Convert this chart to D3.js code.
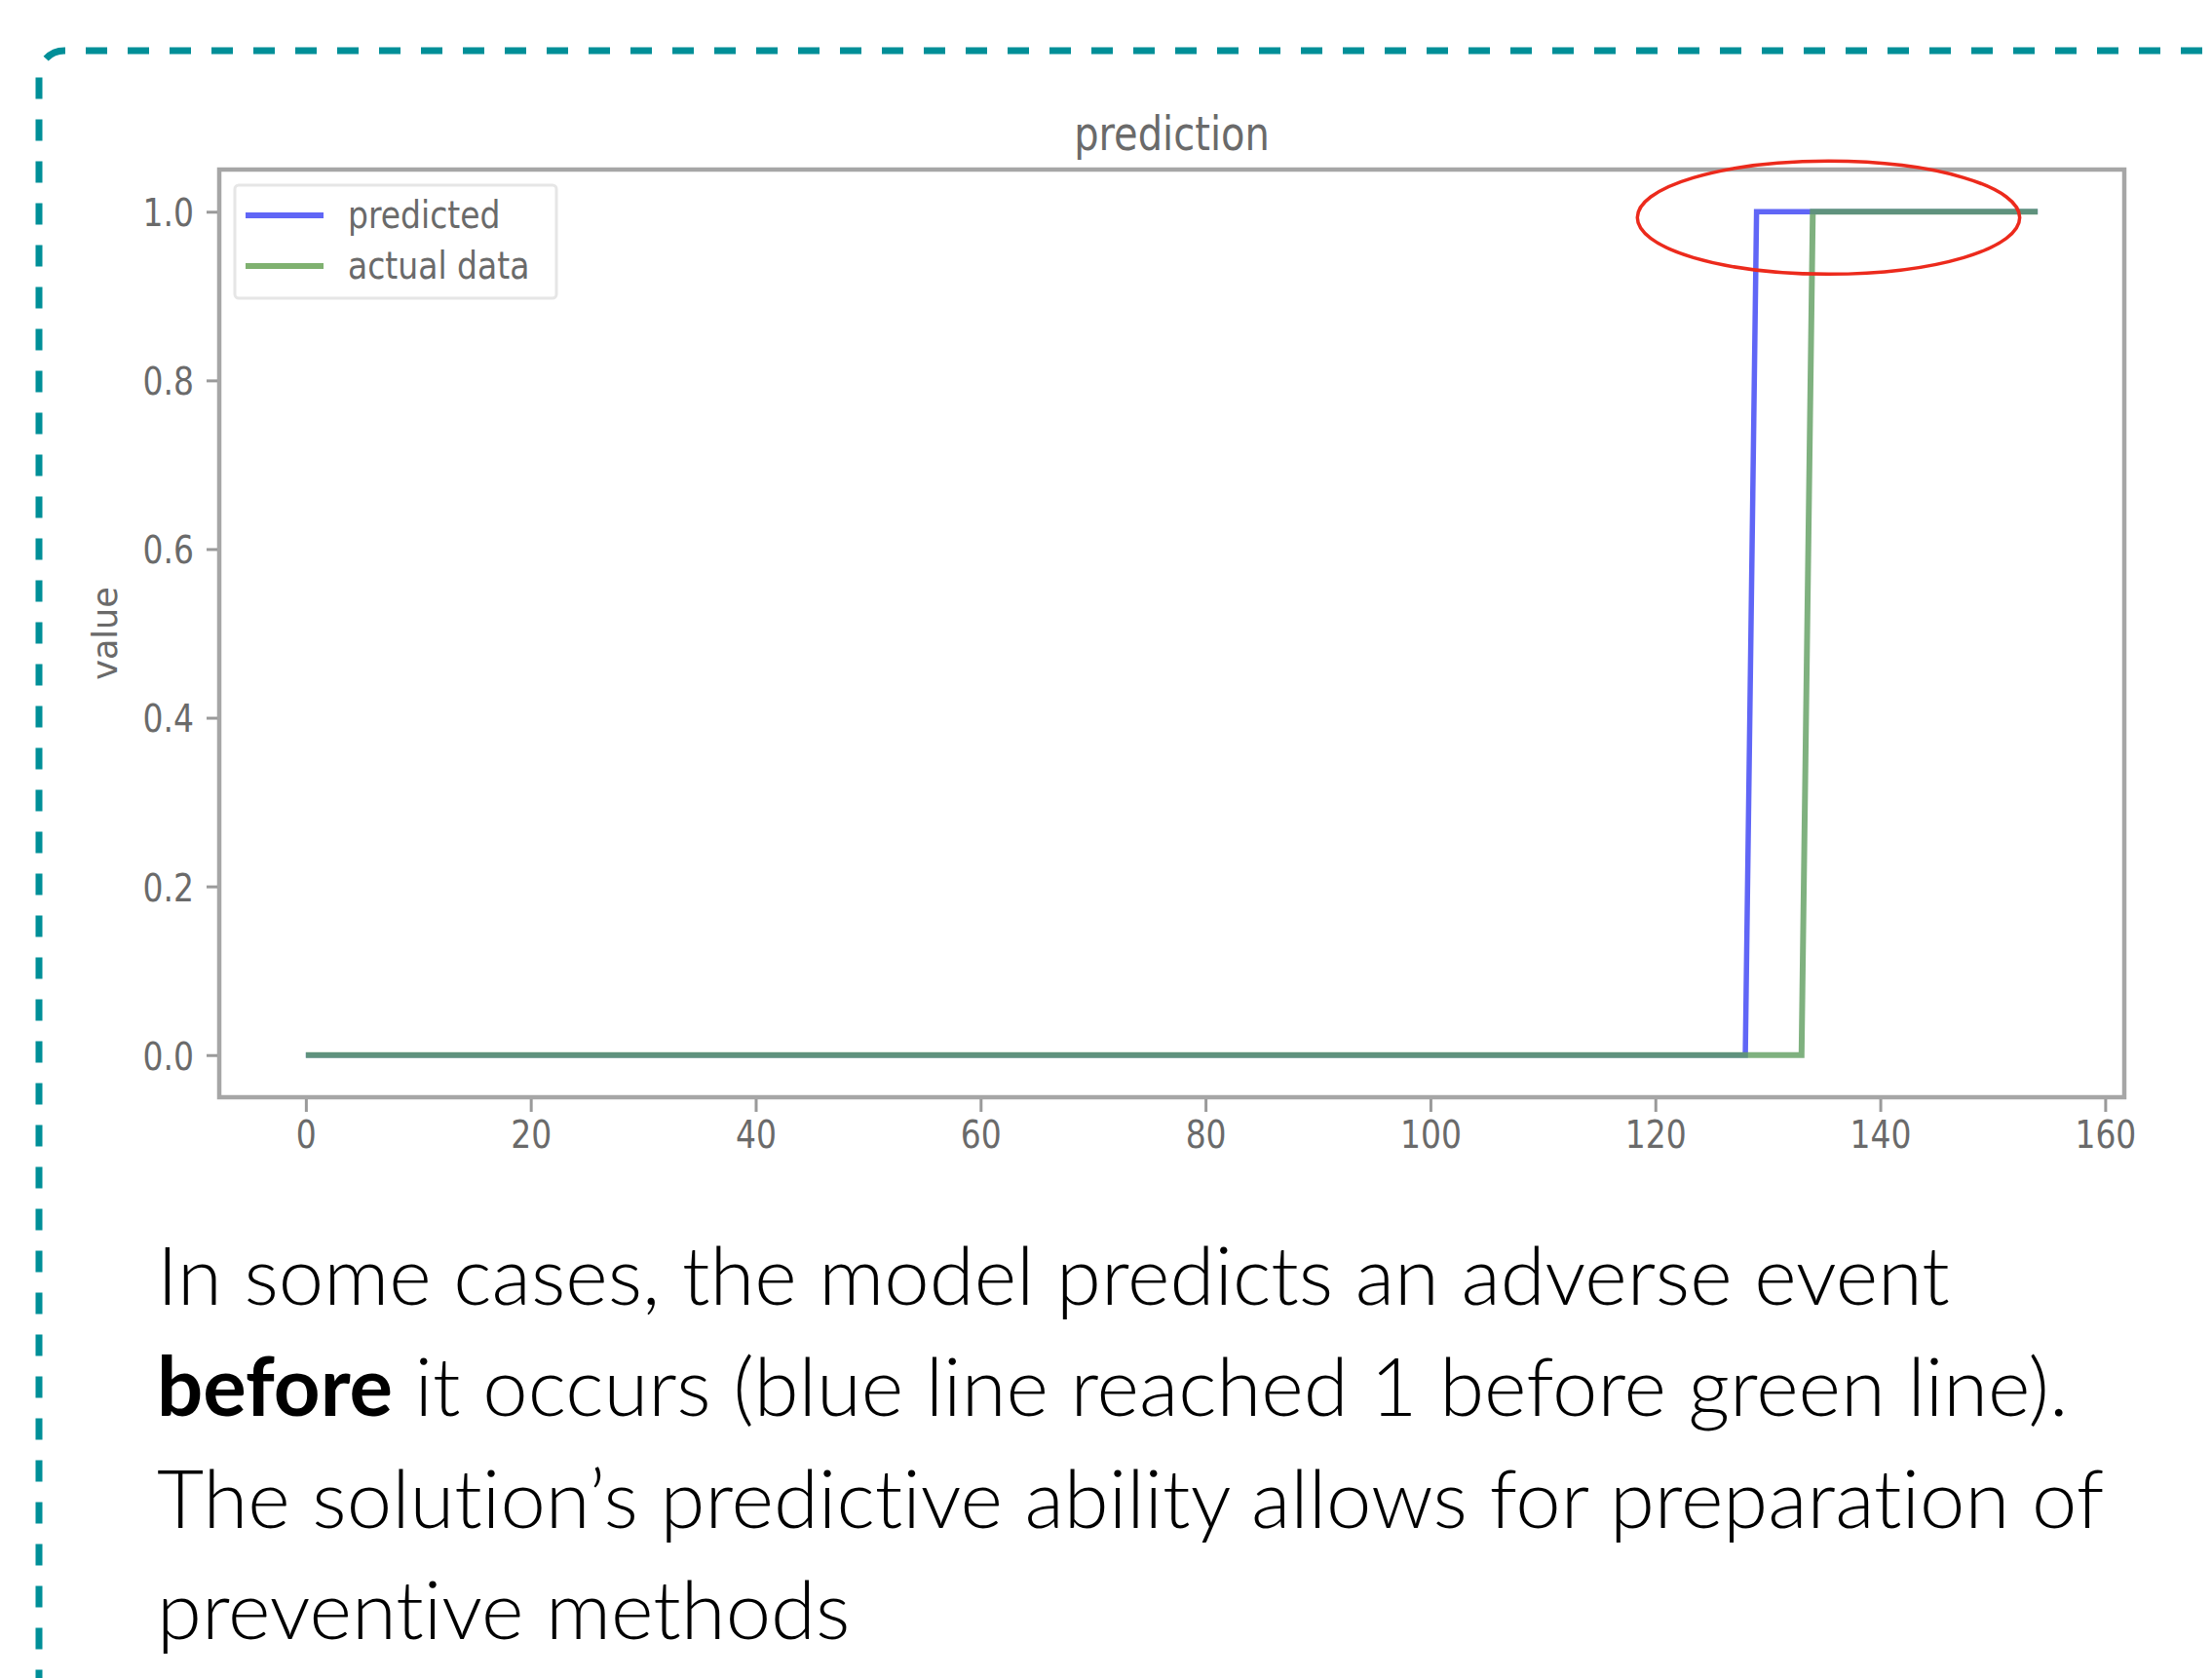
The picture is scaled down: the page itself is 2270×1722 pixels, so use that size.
<!DOCTYPE html>
<html>
<head>
<meta charset="utf-8">
<script src="https://cdn.jsdelivr.net/npm/d3@7"></script>
<style>
  html, body { margin: 0; padding: 0; background: #fff; }
  svg { display: block; }
  .cap { font-variant-ligatures: none; font-feature-settings: "liga" 0, "clig" 0; }
</style>
</head>
<body>
<svg id="chart" width="2270" height="1722"></svg>
<script>
// ---------- data ----------
const predictedX = [0, 128, 129, 154];
const predictedY = [0, 0, 1, 1];
const actualX = [0, 133, 134, 154];
const actualY = [0, 0, 1, 1];
const xTicks = [0, 20, 40, 60, 80, 100, 120, 140, 160];
const yTicks = [0.0, 0.2, 0.4, 0.6, 0.8, 1.0];
const seriesNames = ["predicted", "actual data"];
const titleText = "prediction";
const yLabelText = "value";
const captionLines = [
  [{t: "In some cases, the model predicts an adverse event", b: false}],
  [{t: "before", b: true}, {t: " it occurs (blue line reached 1 before green line).", b: false}],
  [{t: "The solution\u2019s predictive ability allows for preparation of", b: false}],
  [{t: "preventive methods", b: false}]
];
const highlight = {cx: 135.4, cy: 0.993, rx: 17.0, ry: 0.067};

// ---------- layout ----------
const svg = d3.select("#chart");
const L = 225, R = 2180, T = 174, B = 1126;
const x = d3.scaleLinear().domain([-7.7, 161.7]).range([L, R]);
const y = d3.scaleLinear().domain([-0.05, 1.05]).range([B, T]);
const txtCol = "#6a6a6a";
const spineCol = "#a6a6a6";
const sy = 1.2;
const chartFont = "'DejaVu Sans', sans-serif";

// dashed frame
const teal = "#008f98";
svg.append("path")
  .attr("d", "M 2300 52 L 66 52 A 26 26 0 0 0 40 78 L 40 1800")
  .attr("fill", "none")
  .attr("stroke", teal)
  .attr("stroke-width", 7)
  .attr("stroke-dasharray", "22 21")
  .attr("stroke-dashoffset", 3);

// lines
const lineGen = d3.line().x(d => x(d[0])).y(d => y(d[1]));
const predData = predictedX.map((v, i) => [v, predictedY[i]]);
const actData = actualX.map((v, i) => [v, actualY[i]]);
svg.append("path").datum(predData)
  .attr("d", lineGen).attr("fill", "none")
  .attr("stroke", "#6066f6").attr("stroke-width", 5.5);
svg.append("path").datum(actData)
  .attr("d", lineGen).attr("fill", "none")
  .attr("stroke", "rgb(95,158,95)").attr("stroke-opacity", 0.8).attr("stroke-width", 6);

// spines
svg.append("rect")
  .attr("x", L).attr("y", T).attr("width", R - L).attr("height", B - T)
  .attr("fill", "none").attr("stroke", spineCol).attr("stroke-width", 4.5);

// axes
const xAxis = d3.axisBottom(x).tickValues(xTicks).tickSize(13).tickFormat(d3.format("d"));
const gx = svg.append("g").attr("transform", `translate(0,${B + 2})`).call(xAxis);
gx.select(".domain").remove();
gx.selectAll(".tick line").attr("stroke", "#9a9a9a").attr("stroke-width", 3);
gx.selectAll(".tick text")
  .attr("y", null).attr("dy", null)
  .attr("transform", `translate(0,${1178 - B - 2}) scale(1,${sy})`)
  .attr("fill", txtCol).attr("font-size", 33).attr("font-family", chartFont);

const yAxis = d3.axisLeft(y).tickValues(yTicks).tickSize(11).tickFormat(d3.format(".1f"));
const gy = svg.append("g").attr("transform", `translate(${L - 2},0)`).call(yAxis);
gy.select(".domain").remove();
gy.selectAll(".tick line").attr("stroke", "#9a9a9a").attr("stroke-width", 3);
gy.selectAll(".tick text")
  .attr("x", null).attr("dy", null)
  .attr("transform", `translate(-24,${0.729 * 33 * sy / 2}) scale(1,${sy})`)
  .attr("fill", txtCol).attr("font-size", 33).attr("font-family", chartFont);

// title
svg.append("text")
  .attr("transform", `translate(${(L + R) / 2},154) scale(1,${sy})`)
  .attr("text-anchor", "middle")
  .attr("font-family", chartFont).attr("font-size", 40).attr("fill", txtCol)
  .text(titleText);

// y label
svg.append("text")
  .attr("transform", `translate(120,${(T + B) / 2}) rotate(-90)`)
  .attr("text-anchor", "middle")
  .attr("font-family", chartFont).attr("font-size", 35).attr("fill", txtCol)
  .text(yLabelText);

// legend
const lg = svg.append("g");
lg.append("rect")
  .attr("x", 241).attr("y", 190).attr("width", 330).attr("height", 116)
  .attr("rx", 4)
  .attr("fill", "#fff").attr("stroke", "#e6e6e6").attr("stroke-width", 3);
const legendCols = ["#6066f6", "rgb(127,177,112)"];
[221, 273].forEach((ly, i) => {
  lg.append("line")
    .attr("x1", 252).attr("x2", 332).attr("y1", ly).attr("y2", ly)
    .attr("stroke", legendCols[i]).attr("stroke-width", 6);
  lg.append("text")
    .attr("transform", `translate(357,${ly + 13}) scale(1,${sy})`)
    .attr("font-family", chartFont).attr("font-size", 33).attr("fill", txtCol)
    .text(seriesNames[i]);
});

// highlight ellipse
svg.append("ellipse")
  .attr("cx", x(highlight.cx)).attr("cy", y(highlight.cy))
  .attr("rx", x(highlight.cx + highlight.rx) - x(highlight.cx))
  .attr("ry", y(highlight.cy - highlight.ry) - y(highlight.cy))
  .attr("fill", "none").attr("stroke", "#ec2a1c").attr("stroke-width", 3.5);

// caption
const capFont = "Lato, 'Open Sans', sans-serif";
const baselines = [1339, 1453, 1568, 1682];
const capX = 161;
const texts = captionLines.map((parts, i) => {
  const t = svg.append("text")
    .attr("class", "cap")
    .attr("x", capX).attr("y", baselines[i])
    .attr("font-family", capFont).attr("font-size", 100).attr("fill", "#000");
  parts.forEach(p => {
    t.append("tspan").attr("font-weight", p.b ? "bold" : 300).text(p.t);
  });
  return t;
});
const w0 = texts[0].node().getComputedTextLength();
const fs = 100 * (2001 - capX) / w0;
texts.forEach(t => t.attr("font-size", fs));
</script>
</body>
</html>
